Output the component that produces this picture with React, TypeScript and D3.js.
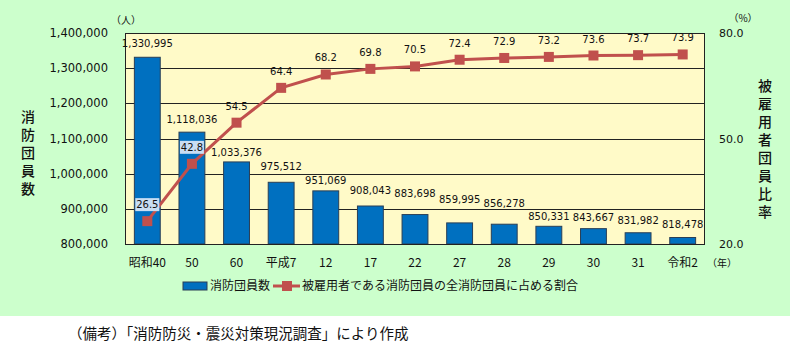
import * as d3 from 'd3';
import { useEffect, useRef } from 'react';

const years = ['昭和40', '50', '60', '平成7', '12', '17', '22', '27', '28', '29', '30', '31', '令和2'];
const members = [1330995, 1118036, 1033376, 975512, 951069, 908043, 883698, 859995, 856278, 850331, 843667, 831982, 818478];
const employedRatio = [26.5, 42.8, 54.5, 64.4, 68.2, 69.8, 70.5, 72.4, 72.9, 73.2, 73.6, 73.7, 73.9];
const leftTicks = [800000, 900000, 1000000, 1100000, 1200000, 1300000, 1400000];
const rightTicks = [20, 50, 80];

const NUM_FONT = '"DejaVu Sans", Verdana, sans-serif';
const JP_FONT = '"Noto Sans CJK JP", "Noto Sans", sans-serif';

const App = () => {
    const svgRef = useRef<SVGSVGElement>(null);

    useEffect(() => {
        document.body.style.margin = '0';
        const width = 790;
        const height = 352;
        const plot = { left: 125, right: 705, top: 33, bottom: 244 };

        const svg = d3.select(svgRef.current);
        svg.selectAll('*').remove();
        svg.attr('width', width).attr('height', height);

        // 背景
        svg.append('rect').attr('width', width).attr('height', height).attr('fill', '#ffffff');
        svg.append('rect').attr('width', width).attr('height', 316).attr('fill', '#ccffcc');
        svg.append('rect')
            .attr('x', plot.left)
            .attr('y', plot.top)
            .attr('width', plot.right - plot.left)
            .attr('height', plot.bottom - plot.top)
            .attr('fill', '#fffac8');

        const x = d3.scaleBand().domain(years).range([plot.left, plot.right]).paddingInner(0.42).paddingOuter(0.21);
        const y = d3.scaleLinear().domain([800000, 1400000]).range([plot.bottom, plot.top]);
        const y2 = d3.scaleLinear().domain([20, 80]).range([plot.bottom, plot.top]);

        // グリッド
        svg.append('g')
            .selectAll('line')
            .data(leftTicks)
            .enter()
            .append('line')
            .attr('x1', plot.left)
            .attr('x2', plot.right)
            .attr('y1', (d) => Math.round(y(d)) + 0.5)
            .attr('y2', (d) => Math.round(y(d)) + 0.5)
            .attr('stroke', '#222')
            .attr('stroke-width', 1);

        // 棒
        svg.append('g')
            .selectAll('rect')
            .data(members)
            .enter()
            .append('rect')
            .attr('x', (d, i) => x(years[i]) as number)
            .attr('y', (d) => y(d))
            .attr('width', x.bandwidth())
            .attr('height', (d) => plot.bottom - y(d))
            .attr('fill', '#0070c0')
            .attr('stroke', '#2a3f55')
            .attr('stroke-width', 1);

        // 枠
        svg.append('rect')
            .attr('x', plot.left + 0.5)
            .attr('y', plot.top + 0.5)
            .attr('width', plot.right - plot.left - 1)
            .attr('height', plot.bottom - plot.top)
            .attr('fill', 'none')
            .attr('stroke', '#222');

        // 棒のラベル（位置は元図に合わせて個別に持ち上げ）
        const barLabelLift = [10, 9, 6, 12, 7, 12, 18, 20, 17, 6, 8, 9, 10];
        svg.append('g')
            .selectAll('text')
            .data(members)
            .enter()
            .append('text')
            .attr('x', (d, i) => (x(years[i]) as number) + x.bandwidth() / 2)
            .attr('y', (d, i) => y(d) - barLabelLift[i])
            .attr('text-anchor', 'middle')
            .style('font-family', NUM_FONT)
            .style('font-size', '10px')
            .attr('fill', '#111')
            .text((d) => d3.format(',')(d));

        // 折れ線
        const cx = (i: number) => (x(years[i]) as number) + x.bandwidth() / 2;
        const line = d3
            .line<number>()
            .x((d, i) => cx(i))
            .y((d) => y2(d));
        svg.append('path')
            .datum(employedRatio)
            .attr('d', line)
            .attr('fill', 'none')
            .attr('stroke', '#c0504d')
            .attr('stroke-width', 3);
        svg.append('g')
            .selectAll('rect')
            .data(employedRatio)
            .enter()
            .append('rect')
            .attr('x', (d, i) => cx(i) - 5)
            .attr('y', (d) => y2(d) - 5)
            .attr('width', 10)
            .attr('height', 10)
            .attr('fill', '#c0504d');

        // 折れ線のラベル
        const lineLabels = svg.append('g');
        employedRatio.forEach((v, i) => {
            const lx = cx(i);
            const ly = y2(v) - 13;
            if (i < 2) {
                lineLabels.append('rect')
                    .attr('x', lx - 12)
                    .attr('y', ly - 10)
                    .attr('width', 24)
                    .attr('height', 13)
                    .attr('fill', '#c9def3');
            }
            lineLabels.append('text')
                .attr('x', lx)
                .attr('y', ly)
                .attr('text-anchor', 'middle')
                .style('font-family', NUM_FONT)
                .style('font-size', '10px')
                .attr('fill', '#111')
                .text(v.toFixed(1));
        });

        // 左軸
        svg.append('g')
            .selectAll('text')
            .data(leftTicks)
            .enter()
            .append('text')
            .attr('x', 108)
            .attr('y', (d) => y(d) + 4)
            .attr('text-anchor', 'end')
            .style('font-family', NUM_FONT)
            .style('font-size', '11.5px')
            .attr('fill', '#111')
            .text((d) => d3.format(',')(d));

        // 右軸
        svg.append('g')
            .selectAll('text')
            .data(rightTicks)
            .enter()
            .append('text')
            .attr('x', 719)
            .attr('y', (d) => y2(d) + 4)
            .attr('text-anchor', 'start')
            .style('font-family', NUM_FONT)
            .style('font-size', '11px')
            .attr('fill', '#111')
            .text((d) => d.toFixed(1));

        // X軸ラベル
        svg.append('g')
            .selectAll('text')
            .data(years)
            .enter()
            .append('text')
            .attr('x', (d) => (x(d) as number) + x.bandwidth() / 2)
            .attr('y', 267)
            .attr('text-anchor', 'middle')
            .style('font-family', JP_FONT)
            .style('font-size', '12px')
            .attr('fill', '#111')
            .text((d) => d);

        // 単位
        const unit = (tx: number, ty: number, t: string) =>
            svg.append('text')
                .attr('x', tx)
                .attr('y', ty)
                .attr('text-anchor', 'middle')
                .style('font-family', JP_FONT)
                .style('font-size', '10px')
                .attr('fill', '#111')
                .text(t);
        unit(126, 24, '（人）');
        unit(743, 22, '（%）');
        unit(722, 267, '（年）');

        // 軸タイトル（縦書き）
        const vertical = (tx: number, ty: number, t: string) =>
            svg.append('text')
                .attr('x', tx)
                .attr('y', ty)
                .style('writing-mode', 'vertical-rl')
                .style('letter-spacing', '4px')
                .style('font-family', JP_FONT)
                .style('font-size', '14px')
                .style('font-weight', 500)
                .attr('fill', '#111')
                .text(t);
        vertical(28, 110, '消防団員数');
        vertical(765, 79, '被雇用者団員比率');

        // 凡例
        const legend = svg.append('g');
        legend.append('rect')
            .attr('x', 183)
            .attr('y', 282)
            .attr('width', 24)
            .attr('height', 8)
            .attr('fill', '#0070c0')
            .attr('stroke', '#2a3f55');
        legend.append('text')
            .attr('x', 210)
            .attr('y', 290)
            .style('font-family', JP_FONT)
            .style('font-size', '12px')
            .attr('fill', '#111')
            .text('消防団員数');
        legend.append('line')
            .attr('x1', 273)
            .attr('x2', 300)
            .attr('y1', 286)
            .attr('y2', 286)
            .attr('stroke', '#c0504d')
            .attr('stroke-width', 3);
        legend.append('rect')
            .attr('x', 282)
            .attr('y', 281)
            .attr('width', 10)
            .attr('height', 10)
            .attr('fill', '#c0504d');
        legend.append('text')
            .attr('x', 302)
            .attr('y', 290)
            .style('font-family', JP_FONT)
            .style('font-size', '12px')
            .attr('fill', '#111')
            .text('被雇用者である消防団員の全消防団員に占める割合');

        // 備考
        svg.append('text')
            .attr('x', 68)
            .attr('y', 339)
            .style('font-family', JP_FONT)
            .style('font-size', '14.5px')
            .attr('fill', '#111')
            .text('（備考）「消防防災・震災対策現況調査」により作成');
    }, []);

    return <svg ref={svgRef} style={{ display: 'block' }} />;
};

export default App;
